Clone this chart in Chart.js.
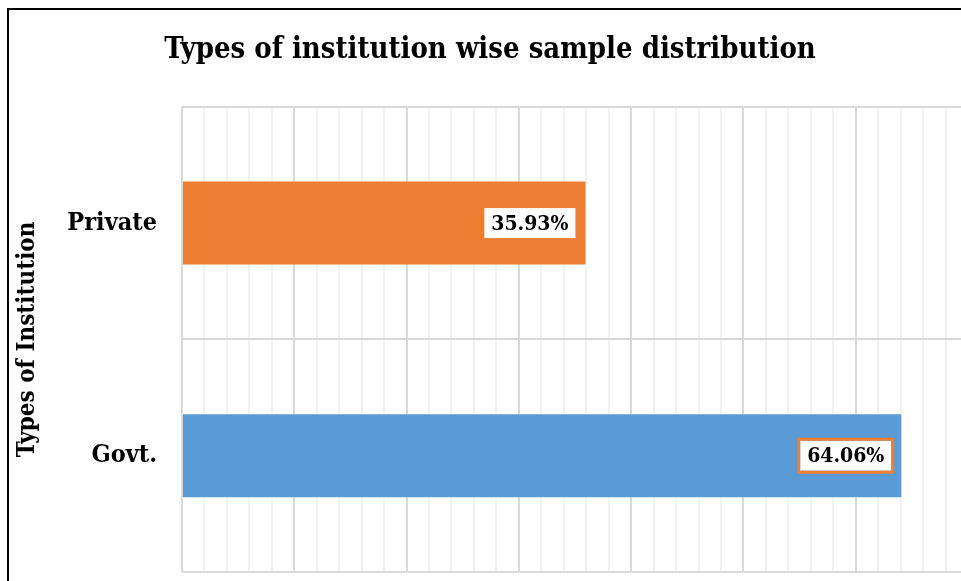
<!DOCTYPE html>
<html>
<head>
<meta charset="utf-8">
<script src="https://cdn.jsdelivr.net/npm/chart.js@4/dist/chart.umd.min.js"></script>
<style>
  html, body { margin: 0; padding: 0; background: #fff; overflow: hidden; width: 961px; height: 581px; }
  #wrap { position: absolute; left: 0; top: 0; width: 980px; height: 581px; }
</style>
</head>
<body>
<div id="wrap"><canvas id="chart" width="980" height="581"></canvas></div>
<script>
// Sample share by type of institution (percent)
const categories = ['Private', 'Govt.'];
const shares = [35.93, 64.06];
const barColors = ['#ED7D31', '#5B9BD5'];
const axisMin = 0;
const axisMax = 70;
const minorStep = 2;
const majorStep = 10;

const serif = "'DejaVu Serif Condensed', 'DejaVu Serif', serif";

// White outer frame with a black edge on the left and top
const frame = {
  id: 'frame',
  beforeDraw(chart) {
    const ctx = chart.ctx;
    ctx.save();
    ctx.fillStyle = '#fff';
    ctx.fillRect(0, 0, chart.width, chart.height);
    ctx.strokeStyle = '#000';
    ctx.lineWidth = 2;
    ctx.beginPath();
    ctx.moveTo(8, chart.height + 5);
    ctx.lineTo(8, 9);
    ctx.lineTo(chart.width + 5, 9);
    ctx.stroke();
    ctx.restore();
  }
};

// Boxed percentage labels drawn inside the end of each bar
const valueLabels = {
  id: 'valueLabels',
  afterDatasetsDraw(chart, args, opts) {
    const ctx = chart.ctx;
    const meta = chart.getDatasetMeta(0);
    ctx.save();
    ctx.font = 'bold ' + opts.size + 'px ' + opts.family;
    meta.data.forEach((bar, i) => {
      const text = shares[i].toFixed(2) + '%';
      const w = ctx.measureText(text).width + 2 * opts.padX;
      const h = opts.height;
      const x = bar.x - opts.inset - w;
      const y = bar.y - h / 2;
      ctx.fillStyle = '#fff';
      ctx.fillRect(x, y, w, h);
      const edge = opts.edges[i];
      if (edge) {
        ctx.strokeStyle = edge;
        ctx.lineWidth = 3;
        ctx.strokeRect(x - 1.5, y - 1.5, w + 3, h + 3);
      }
      ctx.fillStyle = '#000';
      ctx.textAlign = 'center';
      ctx.textBaseline = 'middle';
      ctx.fillText(text, x + w / 2, bar.y + 1);
    });
    ctx.restore();
  }
};

new Chart(document.getElementById('chart'), {
  type: 'bar',
  data: {
    labels: categories,
    datasets: [{
      data: shares,
      backgroundColor: barColors,
      borderWidth: 0,
      barPercentage: 0.357,
      categoryPercentage: 1
    }]
  },
  options: {
    indexAxis: 'y',
    responsive: false,
    animation: false,
    devicePixelRatio: 1,
    layout: { padding: { left: 12, right: 12, top: 0, bottom: 0 } },
    plugins: {
      legend: { display: false },
      tooltip: { enabled: false },
      title: {
        display: true,
        text: 'Types of institution wise sample distribution',
        color: '#000',
        font: { family: serif, size: 29, weight: 'bold', lineHeight: 1.2 },
        padding: { top: 33, bottom: 39 }
      },
      valueLabels: {
        family: serif,
        size: 21,
        padX: 7,
        height: 30,
        inset: 10,
        edges: [null, '#ED7D31']
      }
    },
    scales: {
      x: {
        min: axisMin,
        max: axisMax,
        ticks: { display: false, stepSize: minorStep },
        grid: {
          color: c => (c.tick && c.tick.value % majorStep === 0) ? '#d9d9d9' : '#f2f2f2',
          lineWidth: 2,
          drawTicks: false
        },
        border: { display: false },
        afterFit: s => { s.height = 9; }
      },
      y: {
        ticks: {
          color: '#000',
          padding: 25,
          font: { family: serif, size: 25, weight: 'bold' }
        },
        grid: { color: '#d9d9d9', lineWidth: 2, drawTicks: false, offset: true },
        border: { display: false },
        title: {
          display: true,
          text: 'Types of Institution',
          color: '#000',
          font: { family: serif, size: 24, weight: 'bold', lineHeight: 1.2 },
          padding: { top: 1, bottom: 0 }
        },
        afterFit: s => { s.width = 170; s.paddingTop = 0; s.paddingBottom = 0; }
      }
    }
  },
  plugins: [frame, valueLabels]
});
</script>
</body>
</html>
